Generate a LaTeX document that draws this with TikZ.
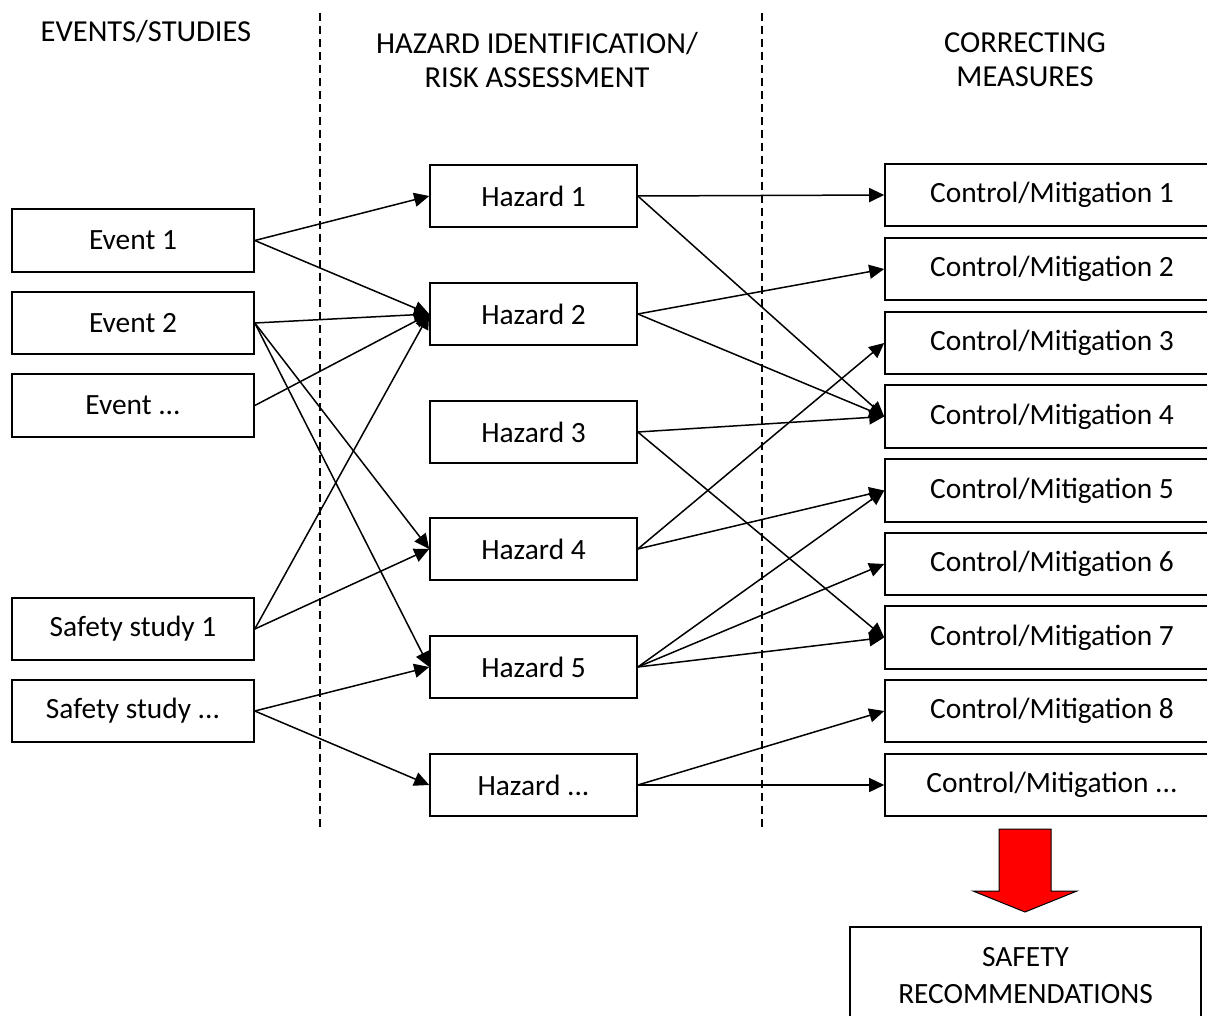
\documentclass[tikz,border=0pt]{standalone}
\usepackage{fontspec}
\setmainfont{Carlito}
\usetikzlibrary{arrows.meta}
\tikzset{
  box/.style={draw=black, line width=1.6pt, minimum height=62.5pt, inner sep=0pt, align=center,
              font=\fontsize{29.4}{37}\selectfont},
  srcbox/.style={box, minimum width=242pt},
  hazbox/.style={box, minimum width=207pt},
  ctrlbox/.style={box, minimum width=334pt},
  link/.style={line width=1.5pt, -{Triangle[length=15pt,width=14pt]}},
  divider/.style={line width=1.4pt, dash pattern=on 8pt off 5pt},
  heading/.style={align=center, font=\fontsize{30.5}{34}\selectfont, inner sep=0pt}
}
\begin{document}
\begin{tikzpicture}[x=1pt,y=-1pt]
\useasboundingbox (0,0) rectangle (1207,1016);

% column headings
\node[heading] (h1) at (146,32) {EVENTS/STUDIES};
\node[heading] (h2) at (537,60) {HAZARD IDENTIFICATION/\\RISK ASSESSMENT};
\node[heading] (h3) at (1025,60) {CORRECTING\\MEASURES};

% column dividers
\coordinate (d1t) at (320,13);
\coordinate (d1b) at (320,830);
\coordinate (d2t) at (762,13);
\coordinate (d2b) at (762,830);
\draw[divider] (d1t) -- (d1b);
\draw[divider] (d2t) -- (d2b);

% sources
\node[srcbox] (e1) at (133,240.5) {Event 1};
\node[srcbox] (e2) at (133,323) {Event 2};
\node[srcbox] (e3) at (133,405.5) {Event ...};
\node[srcbox] (s1) at (133,629) {Safety study 1};
\node[srcbox] (s2) at (133,711) {Safety study ...};

% hazards
\node[hazbox] (z1) at (533.5,196) {Hazard 1};
\node[hazbox] (z2) at (533.5,314) {Hazard 2};
\node[hazbox] (z3) at (533.5,432) {Hazard 3};
\node[hazbox] (z4) at (533.5,549) {Hazard 4};
\node[hazbox] (z5) at (533.5,667) {Hazard 5};
\node[hazbox] (z6) at (533.5,785) {Hazard ...};

% controls
\node[ctrlbox] (c1) at (1052,195) {Control/Mitigation 1};
\node[ctrlbox] (c2) at (1052,269) {Control/Mitigation 2};
\node[ctrlbox] (c3) at (1052,343) {Control/Mitigation 3};
\node[ctrlbox] (c4) at (1052,416.5) {Control/Mitigation 4};
\node[ctrlbox] (c5) at (1052,490.5) {Control/Mitigation 5};
\node[ctrlbox] (c6) at (1052,564) {Control/Mitigation 6};
\node[ctrlbox] (c7) at (1052,637.5) {Control/Mitigation 7};
\node[ctrlbox] (c8) at (1052,711) {Control/Mitigation 8};
\node[ctrlbox] (c9) at (1052,785) {Control/Mitigation ...};

% sources to hazards
\draw[link] (e1.east) -- (z1.west);
\draw[link] (e1.east) -- (z2.west);
\draw[link] (e2.east) -- (z2.west);
\draw[link] (e3.east) -- (z2.west);
\draw[link] (e2.east) -- (z4.west);
\draw[link] (e2.east) -- (z5.west);
\draw[link] (s1.east) -- (z2.west);
\draw[link] (s1.east) -- (z4.west);
\draw[link] (s2.east) -- (z5.west);
\draw[link] (s2.east) -- (z6.west);

% hazards to controls
\draw[link] (z1.east) -- (c1.west);
\draw[link] (z1.east) -- (c4.west);
\draw[link] (z2.east) -- (c2.west);
\draw[link] (z2.east) -- (c4.west);
\draw[link] (z3.east) -- (c4.west);
\draw[link] (z3.east) -- (c7.west);
\draw[link] (z4.east) -- (c3.west);
\draw[link] (z4.east) -- (c5.west);
\draw[link] (z5.east) -- (c5.west);
\draw[link] (z5.east) -- (c6.west);
\draw[link] (z5.east) -- (c7.west);
\draw[link] (z6.east) -- (c8.west);
\draw[link] (z6.east) -- (c9.west);

% block arrow towards the recommendations
\draw[fill=red, line width=1pt, line join=miter]
  (999,829) -- (1051,829) -- (1051,891) -- (1077,891) -- (1025,912)
  -- (973,891) -- (999,891) -- cycle;

\node[box, minimum width=351pt, minimum height=98pt] (rec) at (1025.5,976)
  {SAFETY\\RECOMMENDATIONS};
\end{tikzpicture}
\end{document}
